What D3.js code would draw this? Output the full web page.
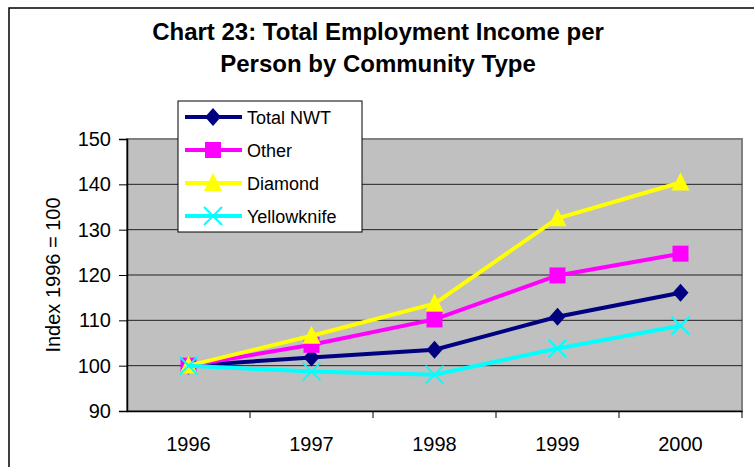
<!DOCTYPE html>
<html>
<head>
<meta charset="utf-8">
<script src="https://cdn.jsdelivr.net/npm/d3@7"></script>
<style>
  body { margin: 0; background: #fff; }
  svg text { font-family: "Liberation Sans", Arial, sans-serif; }
</style>
</head>
<body>
<script>
// chart data
const years = ["1996", "1997", "1998", "1999", "2000"];
const seriesNames = ["Total NWT", "Other", "Diamond", "Yellowknife"];
const totalNWT = [100, 101.8, 103.5, 110.8, 116.1];
const other = [100, 104.6, 110.2, 119.9, 124.7];
const diamond = [100, 106.6, 113.7, 132.5, 140.4];
const yellowknife = [100, 98.7, 98.0, 103.8, 108.8];
const yTicks = [90, 100, 110, 120, 130, 140, 150];

const colors = ["#000080", "#FF00FF", "#FFFF00", "#00FFFF"];
const shapes = ["diamond", "square", "triangle", "x"];
const allValues = [totalNWT, other, diamond, yellowknife];

const width = 754;
const height = 467;
const plotLeft = 127, plotRight = 742, plotTop = 139, plotBottom = 411;

const svg = d3.select("body").append("svg")
    .attr("width", width)
    .attr("height", height);

// outer frame
svg.append("rect")
    .attr("x", 9).attr("y", 8)
    .attr("width", width).attr("height", height)
    .attr("fill", "none").attr("stroke", "#000").attr("stroke-width", 1.5);

const x = d3.scaleBand().domain(years).range([plotLeft, plotRight]);
const y = d3.scaleLinear().domain([90, 150]).range([plotBottom, plotTop]);

// plot area
svg.append("rect")
    .attr("x", plotLeft).attr("y", plotTop)
    .attr("width", plotRight - plotLeft).attr("height", plotBottom - plotTop)
    .attr("fill", "#C0C0C0").attr("stroke", "#808080").attr("stroke-width", 2);

// gridlines
svg.append("g").selectAll("line")
  .data(yTicks.filter(t => t > 90 && t < 150))
  .join("line")
    .attr("x1", plotLeft).attr("x2", plotRight)
    .attr("y1", d => y(d)).attr("y2", d => y(d))
    .attr("stroke", "#222").attr("stroke-width", 1);

// y axis
const yAxis = svg.append("g")
    .attr("transform", `translate(${plotLeft},0)`)
    .call(d3.axisLeft(y).tickValues(yTicks).tickSize(8).tickPadding(8));
yAxis.select(".domain").attr("stroke", "#000").attr("stroke-width", 1.5);
yAxis.selectAll("text").attr("font-size", 20).attr("fill", "#000");

// x axis
const xAxis = svg.append("g")
    .attr("transform", `translate(0,${plotBottom})`)
    .call(d3.axisBottom(x).tickSize(0).tickPadding(26));
xAxis.select(".domain").attr("stroke", "#000").attr("stroke-width", 1.5);
xAxis.selectAll("text").attr("font-size", 20).attr("fill", "#000");
// tick marks between categories
svg.append("g").selectAll("line")
  .data(years)
  .join("line")
    .attr("x1", d => x(d) + x.bandwidth()).attr("x2", d => x(d) + x.bandwidth())
    .attr("y1", plotBottom).attr("y2", plotBottom + 7)
    .attr("stroke", "#000").attr("stroke-width", 1);

// y label
svg.append("text")
    .attr("transform", `translate(60,275) rotate(-90)`)
    .attr("text-anchor", "middle")
    .attr("font-size", 20)
    .text("Index 1996 = 100");

// title
const title = svg.append("text")
    .attr("text-anchor", "middle")
    .attr("font-size", 24).attr("font-weight", "bold");
title.append("tspan").attr("x", 378).attr("y", 40).text("Chart 23: Total Employment Income per");
title.append("tspan").attr("x", 378).attr("y", 72).text("Person by Community Type");

function drawMarker(g, shape, color) {
  if (shape === "diamond") {
    g.append("path").attr("d", "M0,-9L8,0L0,9L-8,0Z").attr("fill", color);
  } else if (shape === "square") {
    g.append("rect").attr("x", -8).attr("y", -8).attr("width", 16).attr("height", 16).attr("fill", color);
  } else if (shape === "triangle") {
    g.append("path").attr("d", "M0,-10L9,8L-9,8Z").attr("fill", color);
  } else {
    g.append("path").attr("d", "M-9,-9L9,9M-9,9L9,-9").attr("stroke", color).attr("stroke-width", 2);
  }
}

const line = d3.line()
    .x((d, i) => x(years[i]) + x.bandwidth() / 2)
    .y(d => y(d));

allValues.forEach((vals, s) => {
  svg.append("path")
      .datum(vals)
      .attr("d", line)
      .attr("fill", "none")
      .attr("stroke", colors[s])
      .attr("stroke-width", 4);
  vals.forEach((v, i) => {
    const g = svg.append("g")
        .attr("transform", `translate(${x(years[i]) + x.bandwidth() / 2},${y(v)})`);
    drawMarker(g, shapes[s], colors[s]);
  });
});

// legend
const legend = svg.append("g");
legend.append("rect")
    .attr("x", 178).attr("y", 101).attr("width", 184).attr("height", 131)
    .attr("fill", "#fff").attr("stroke", "#000").attr("stroke-width", 1);
seriesNames.forEach((name, s) => {
  const cy = 117 + s * 33;
  legend.append("line")
      .attr("x1", 185).attr("x2", 242).attr("y1", cy).attr("y2", cy)
      .attr("stroke", colors[s]).attr("stroke-width", 4);
  drawMarker(legend.append("g").attr("transform", `translate(213,${cy})`), shapes[s], colors[s]);
  legend.append("text")
      .attr("x", 247).attr("y", cy + 7)
      .attr("font-size", 18)
      .text(name);
});
</script>
</body>
</html>
